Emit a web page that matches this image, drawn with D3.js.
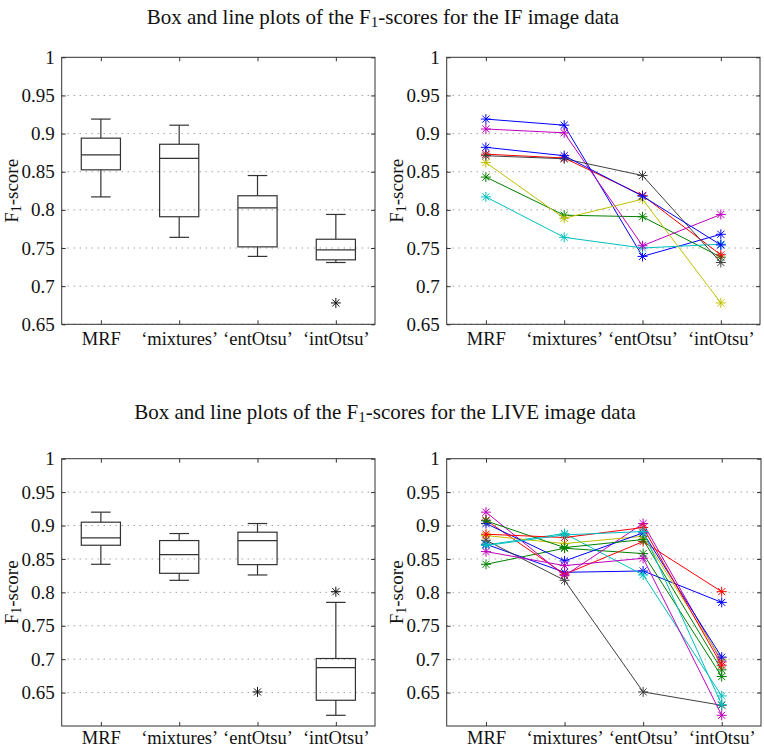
<!DOCTYPE html>
<html><head><meta charset="utf-8">
<script src="https://cdn.jsdelivr.net/npm/d3@7"></script>
<style>
body{margin:0;background:#fff}
svg{display:block}
text{font-family:"Liberation Serif","Times New Roman",serif;fill:#111}
</style>
</head><body>
<svg id="chart" width="764" height="749"></svg>
<script>
// ---------------- data ----------------
const categories = ["MRF", "\u2018mixtures\u2019", "\u2018entOtsu\u2019", "\u2018intOtsu\u2019"];
const yTickValues = [0.65, 0.7, 0.75, 0.8, 0.85, 0.9, 0.95, 1];
const seriesColors = ["#0000ff", "#008000", "#ff0000", "#00bfbf", "#bf00bf", "#bfbf00", "#404040"];
const titles = ["IF", "LIVE"];

// F1-scores, IF image data (one row per image, one value per method)
const ifScores = [
  [0.919, 0.911, 0.739, 0.768],
  [0.843, 0.793, 0.791, 0.738],
  [0.873, 0.868, 0.819, 0.741],
  [0.817, 0.764, 0.750, 0.755],
  [0.906, 0.901, 0.753, 0.794],
  [0.862, 0.789, 0.814, 0.678],
  [0.871, 0.867, 0.845, 0.731],
  [0.882, 0.871, 0.818, 0.754]
];
// F1-scores, LIVE image data
const liveScores = [
  [0.872, 0.830, 0.832, 0.785],
  [0.842, 0.866, 0.858, 0.674],
  [0.908, 0.827, 0.876, 0.801],
  [0.871, 0.888, 0.826, 0.645],
  [0.920, 0.825, 0.903, 0.696],
  [0.885, 0.873, 0.884, 0.699],
  [0.878, 0.818, 0.651, 0.631],
  [0.903, 0.847, 0.889, 0.703],
  [0.907, 0.867, 0.879, 0.684],
  [0.887, 0.882, 0.897, 0.691],
  [0.870, 0.886, 0.891, 0.632],
  [0.861, 0.840, 0.851, 0.616]
];
const yDomains = [[0.65, 1], [0.6, 1]];

// ---------------- helpers ----------------
const svg = d3.select("#chart");
const FS = 19;
const XFS = 18.5;
const TFS = 21;

function prc(sorted, p) {
  const n = sorted.length;
  const r = p * n + 0.5;
  if (r <= 1) return sorted[0];
  if (r >= n) return sorted[n - 1];
  const lo = Math.floor(r), f = r - lo;
  return sorted[lo - 1] + f * (sorted[lo] - sorted[lo - 1]);
}
function boxStats(vals) {
  const s = vals.slice().sort(d3.ascending);
  const q1 = prc(s, 0.25), med = prc(s, 0.5), q3 = prc(s, 0.75);
  const iqr = q3 - q1;
  const lo = q1 - 1.5 * iqr, hi = q3 + 1.5 * iqr;
  const inside = s.filter(v => v >= lo && v <= hi);
  return {q1, med, q3, wLo: d3.min(inside), wHi: d3.max(inside), out: s.filter(v => v < lo || v > hi)};
}
function starPath(r) {
  const a = r * Math.SQRT1_2;
  return `M${-r},0L${r},0M0,${-r}L0,${r}M${-a},${-a}L${a},${a}M${-a},${a}L${a},${-a}`;
}

function addF1(sel, pre, post, size) {
  sel.append("tspan").text(pre);
  sel.append("tspan").attr("baseline-shift", "-22%").attr("font-size", size * 0.72).text("1");
  sel.append("tspan").text(post);
}

function panel(cfg) {
  const {x0, x1, y0, y1, domain, scores, kind, xPad} = cfg;
  const x = d3.scaleLinear().domain([0.5, categories.length + 0.5]).range([x0, x1]);
  const y = d3.scaleLinear().domain(domain).range([y1, y0]);
  const g = svg.append("g");
  const ticks = yTickValues.filter(v => v >= domain[0] && v <= domain[1]);

  // grid (dotted)
  g.append("g").selectAll("line").data(ticks.filter(v => v < domain[1])).join("line")
    .attr("x1", x0).attr("x2", x1).attr("y1", d => y(d)).attr("y2", d => y(d))
    .attr("stroke", "#777").attr("stroke-width", 1).attr("stroke-dasharray", "1,5");

  // axes with inward ticks
  const left = g.append("g").attr("transform", `translate(${x0},0)`)
    .call(d3.axisLeft(y).tickValues(ticks).tickFormat(d => String(d)).tickSizeInner(-4).tickSizeOuter(0).tickPadding(7));
  g.append("g").attr("transform", `translate(${x1},0)`)
    .call(d3.axisRight(y).tickValues(ticks).tickFormat("").tickSizeInner(-4).tickSizeOuter(0));
  const bottom = g.append("g").attr("transform", `translate(0,${y1})`)
    .call(d3.axisBottom(x).tickValues(d3.range(1, categories.length + 1)).tickFormat((d, i) => categories[i]).tickSizeInner(-4).tickSizeOuter(0).tickPadding(xPad));
  g.append("g").attr("transform", `translate(0,${y0})`)
    .call(d3.axisTop(x).tickValues(d3.range(1, categories.length + 1)).tickFormat("").tickSizeInner(-4).tickSizeOuter(0));
  g.selectAll(".domain").remove();
  g.selectAll(".tick line").attr("stroke", "#333");
  left.selectAll("text").attr("font-size", FS).attr("font-family", null).attr("fill", "#111");
  bottom.selectAll("text").attr("font-size", XFS).attr("font-family", null).attr("fill", "#111");

  // frame
  g.append("rect").attr("x", x0).attr("y", y0).attr("width", x1 - x0).attr("height", y1 - y0)
    .attr("fill", "none").attr("stroke", "#333").attr("stroke-width", 1);

  // y label
  const yl = g.append("text").attr("font-size", FS).attr("text-anchor", "middle")
    .attr("transform", `translate(${x0 - 44},${(y0 + y1) / 2}) rotate(-90)`);
  addF1(yl, "F", "-score", FS);

  if (kind === "box") {
    const cols = categories.map((c, j) => scores.map(r => r[j]));
    const stats = cols.map(boxStats);
    const bw = 0.25, cw = 0.125;
    const bg = g.append("g").attr("stroke", "#333").attr("stroke-width", 1.2).attr("fill", "none");
    stats.forEach((s, j) => {
      const c = j + 1;
      bg.append("line").attr("x1", x(c)).attr("x2", x(c)).attr("y1", y(s.q3)).attr("y2", y(s.wHi));
      bg.append("line").attr("x1", x(c)).attr("x2", x(c)).attr("y1", y(s.q1)).attr("y2", y(s.wLo));
      bg.append("line").attr("x1", x(c - cw)).attr("x2", x(c + cw)).attr("y1", y(s.wHi)).attr("y2", y(s.wHi));
      bg.append("line").attr("x1", x(c - cw)).attr("x2", x(c + cw)).attr("y1", y(s.wLo)).attr("y2", y(s.wLo));
      bg.append("rect").attr("x", x(c - bw)).attr("y", y(s.q3)).attr("width", x(c + bw) - x(c - bw)).attr("height", y(s.q1) - y(s.q3));
      bg.append("line").attr("x1", x(c - bw)).attr("x2", x(c + bw)).attr("y1", y(s.med)).attr("y2", y(s.med));
      s.out.forEach(v => {
        bg.append("path").attr("d", starPath(5)).attr("stroke", "#111").attr("stroke-width", 1)
          .attr("transform", `translate(${x(c)},${y(v)})`);
      });
    });
  } else {
    const line = d3.line().x((d, j) => x(j + 1)).y(d => y(d));
    scores.forEach((row, i) => {
      const col = seriesColors[i % seriesColors.length];
      const sg = g.append("g");
      sg.append("path").attr("d", line(row)).attr("fill", "none").attr("stroke", col).attr("stroke-width", 1);
      sg.selectAll("path.m").data(row).join("path").attr("class", "m")
        .attr("d", starPath(5)).attr("stroke", col).attr("stroke-width", 1).attr("fill", "none")
        .attr("transform", (d, j) => `translate(${x(j + 1)},${y(d)})`);
    });
  }
}

// titles
[[383, 24, titles[0]], [385, 419, titles[1]]].forEach(([cx, by, name]) => {
  const t = svg.append("text").attr("x", cx).attr("y", by).attr("text-anchor", "middle").attr("font-size", TFS);
  addF1(t, "Box and line plots of the F", `-scores for the ${name} image data`, TFS);
});

panel({x0: 61.7, x1: 375, y0: 57.3, y1: 324.3, domain: yDomains[0], scores: ifScores, kind: "box", xPad: 8});
panel({x0: 446.7, x1: 760, y0: 57.3, y1: 324.3, domain: yDomains[0], scores: ifScores, kind: "line", xPad: 8});
panel({x0: 61.7, x1: 375, y0: 458.7, y1: 726, domain: yDomains[1], scores: liveScores, kind: "box", xPad: 5});
panel({x0: 446.7, x1: 761, y0: 458.7, y1: 726, domain: yDomains[1], scores: liveScores, kind: "line", xPad: 5});
</script>
</body></html>
